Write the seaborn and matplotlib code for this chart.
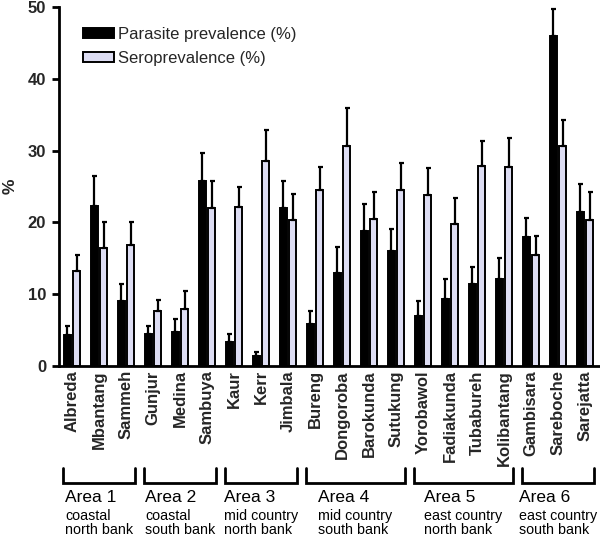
import matplotlib
matplotlib.use("Agg")
import matplotlib.pyplot as plt
import matplotlib.transforms as mtransforms
from matplotlib import font_manager
import seaborn as sns
import pandas as pd
import numpy as np

villages = ["Albreda", "Mbantang", "Sammeh", "Gunjur", "Medina", "Sambuya",
            "Kaur", "Kerr", "Jimbala", "Bureng", "Dongoroba", "Barokunda",
            "Sutukung", "Yorobawol", "Fadiakunda", "Tubabureh", "Kolibantang",
            "Gambisara", "Sareboche", "Sarejatta"]
parasite = [4.3, 22.3, 9.1, 4.4, 4.7, 25.8, 3.4, 1.4, 22.0, 5.9, 12.9, 18.8,
            16.0, 7.0, 9.4, 11.4, 12.1, 17.9, 46.0, 21.5]
parasite_err = [1.3, 4.1, 2.3, 1.2, 1.9, 3.9, 1.1, 0.5, 3.7, 1.8, 3.7, 3.7,
                3.1, 2.1, 2.7, 2.4, 2.9, 2.7, 3.7, 3.9]
sero = [13.3, 16.4, 16.9, 7.7, 7.9, 22.0, 22.2, 28.6, 20.4, 24.5, 30.7, 20.5,
        24.5, 23.8, 19.8, 27.8, 27.7, 15.5, 30.7, 20.4]
sero_err = [2.1, 3.6, 3.2, 1.5, 2.5, 3.8, 2.8, 4.3, 3.6, 3.2, 5.3, 3.8,
            3.8, 3.8, 3.6, 3.5, 4.1, 2.6, 3.6, 3.8]
series_names = ["Parasite prevalence (%)", "Seroprevalence (%)"]
area_titles = ["Area 1", "Area 2", "Area 3", "Area 4", "Area 5", "Area 6"]
area_sub = ["coastal\nnorth bank", "coastal\nsouth bank", "mid country\nnorth bank",
            "mid country\nsouth bank", "east country\nnorth bank", "east country\nsouth bank"]
area_first = [0, 3, 6, 9, 13, 17]
area_last = [2, 5, 8, 12, 16, 19]

sns.set_theme(style="white")
plt.rcParams["font.family"] = ["Liberation Sans", "DejaVu Sans"]

avail = {f.name for f in font_manager.fontManager.ttflist}
narrow = "Liberation Sans Narrow" in avail

df = pd.DataFrame({
    "village": villages * 2,
    "value": parasite + sero,
    "series": [series_names[0]] * len(villages) + [series_names[1]] * len(villages),
})

W, H = 600, 538
fig = plt.figure(figsize=(W / 100, H / 100), dpi=100)
ax = fig.add_axes([58.5 / W, 1 - 366 / H, 540 / W, 359 / H])

sns.barplot(data=df, x="village", y="value", hue="series",
            palette=["black", "#DADAF6"], edgecolor="black", linewidth=1.4,
            width=0.68, gap=0.2, ax=ax, order=villages, hue_order=series_names)

errs = [parasite_err, sero_err]
for cont, err in zip(ax.containers, errs):
    xs = [b.get_x() + b.get_width() / 2 for b in cont]
    ys = [b.get_height() for b in cont]
    ax.errorbar(xs, ys, yerr=[np.zeros(len(err)), err], fmt="none",
                ecolor="black", elinewidth=1.6, capsize=1.8, capthick=1.6, zorder=1)

ax.set_xlim(-0.5, len(villages) - 0.5)
ax.set_ylim(0, 50)
ax.set_yticks([0, 10, 20, 30, 40, 50])
ax.set_xlabel("")
ax.set_ylabel("%", fontsize=12.5, fontweight="bold", labelpad=7)
for s in ["top", "right"]:
    ax.spines[s].set_visible(False)
for s in ["left", "bottom"]:
    ax.spines[s].set_linewidth(2)
    ax.spines[s].set_color("black")
ax.tick_params(axis="y", direction="out", length=5, width=2, color="black",
               left=True, labelsize=12, pad=4)
ax.tick_params(axis="x", length=0, pad=3, labelsize=12)
for lab in ax.get_yticklabels():
    lab.set_fontweight("bold")
for lab in ax.get_xticklabels():
    lab.set_fontweight("bold")
    lab.set_rotation(90)
    lab.set_va("top")

handles, labels = ax.get_legend_handles_labels()
ax.legend(handles, labels, loc="upper left", bbox_to_anchor=(0.045, 0.945),
          frameon=False, fontsize=12, handlelength=1.9, handleheight=0.6,
          handletextpad=0.2, labelspacing=0.55, borderpad=0, borderaxespad=0)

trans = mtransforms.blended_transform_factory(ax.transData, fig.transFigure)
y_top, y_bot = 1 - 468 / H, 1 - 483 / H
if narrow:
    fam = ["Liberation Sans Narrow", "Liberation Sans"]
    fs_title, fs_sub = 13.5, 10.5
else:
    fam = ["Liberation Sans", "DejaVu Sans"]
    fs_title, fs_sub = 12.5, 10.3

subs = []
for i in range(len(area_titles)):
    x0 = area_first[i] - 0.35
    x1 = area_last[i] + 0.35
    ax.plot([x0, x0, x1, x1], [y_top, y_bot, y_bot, y_top], color="black",
            lw=2, transform=trans, clip_on=False, solid_joinstyle="miter")
    t = ax.text((x0 + x1) / 2, 1 - 523 / H, area_sub[i], transform=trans,
                ha="center", va="center", multialignment="left",
                fontsize=fs_sub, family=fam, linespacing=1.0, color="black")
    subs.append(t)

fig.canvas.draw()
r = fig.canvas.get_renderer()
for i, t in enumerate(subs):
    bb = t.get_window_extent(renderer=r)
    fig.text(bb.x0 / W, 1 - 498 / H, area_titles[i], ha="left", va="center",
             fontsize=fs_title, family=fam, color="black")

fig.savefig("out.png", dpi=100)
